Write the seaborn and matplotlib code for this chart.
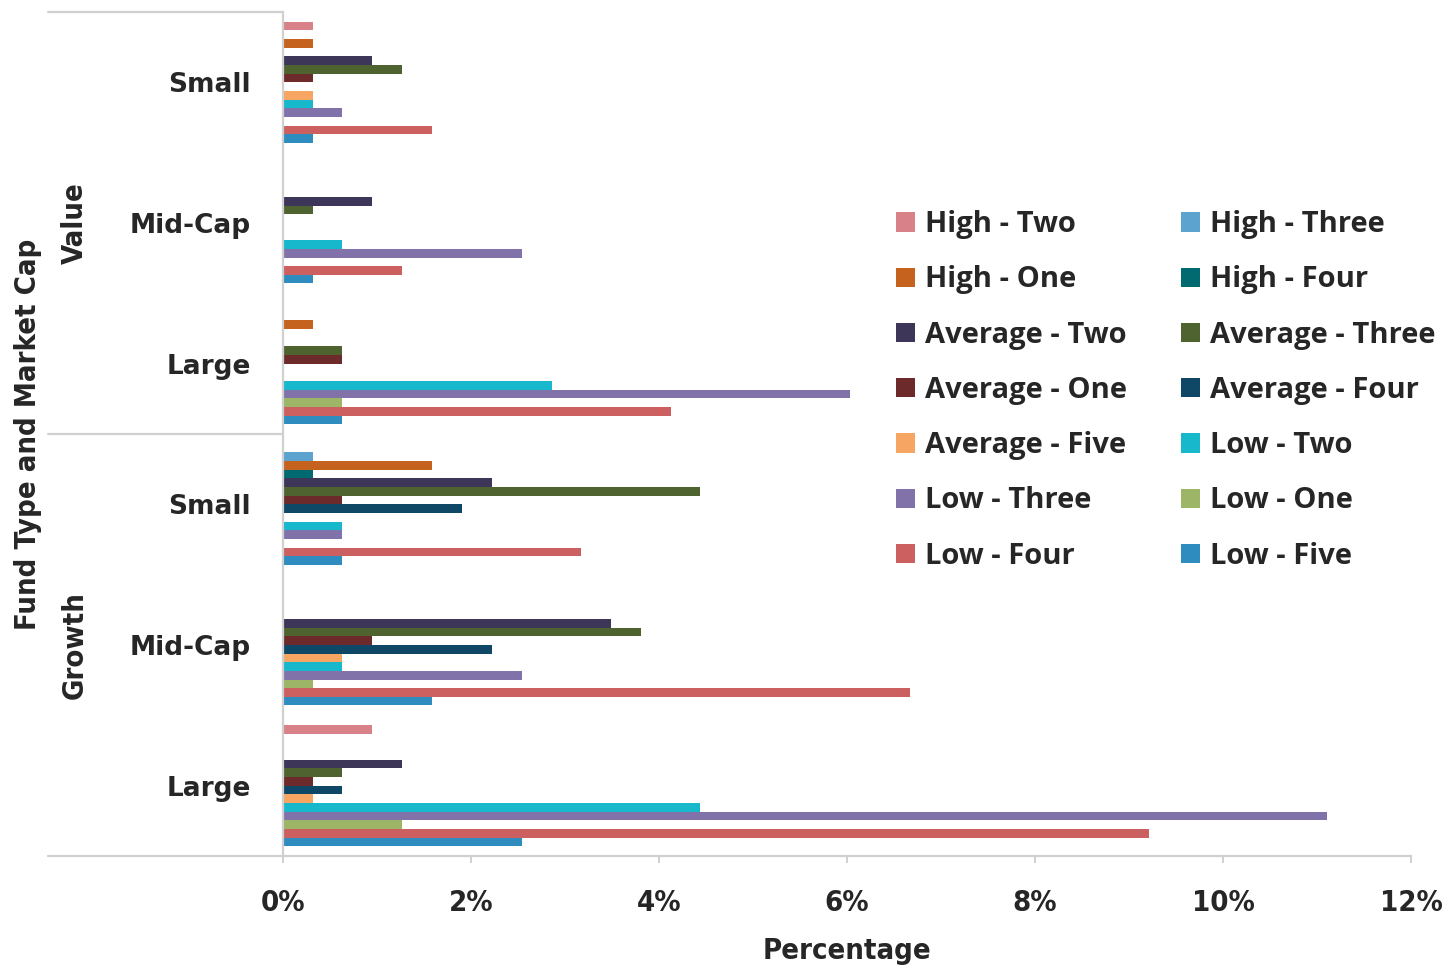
import matplotlib
matplotlib.use("Agg")
import matplotlib.pyplot as plt
import matplotlib.transforms as mtransforms
from matplotlib.ticker import FuncFormatter
import pandas as pd
import seaborn as sns

# Series (return level - rating), in drawing order within each group
series = [
    "High - Two", "High - Three", "High - One", "High - Four",
    "Average - Two", "Average - Three", "Average - One", "Average - Four",
    "Average - Five", "Low - Two", "Low - Three", "Low - One",
    "Low - Four", "Low - Five",
]
colors = [
    "#D98189", "#5DA3CF", "#C5621E", "#006A70",
    "#3E3658", "#4F6331", "#6D2A2B", "#0F4767",
    "#F6A562", "#18B8CC", "#8173A9", "#9CB566",
    "#CC5F5F", "#2E8CBF",
]

fund_types = ["Value", "Value", "Value", "Growth", "Growth", "Growth"]
market_caps = ["Small", "Mid-Cap", "Large", "Small", "Mid-Cap", "Large"]

# Percentage of funds per series, one list per fund type / market cap
value_small = [0.32, 0, 0.32, 0, 0.95, 1.27, 0.32, 0, 0.32, 0.32, 0.63, 0, 1.59, 0.32]
value_mid = [0, 0, 0, 0, 0.95, 0.32, 0, 0, 0, 0.63, 2.54, 0, 1.27, 0.32]
value_large = [0, 0, 0.32, 0, 0, 0.63, 0.63, 0, 0, 2.86, 6.03, 0.63, 4.13, 0.63]
growth_small = [0, 0.32, 1.59, 0.32, 2.22, 4.44, 0.63, 1.90, 0, 0.63, 0.63, 0, 3.17, 0.63]
growth_mid = [0, 0, 0, 0, 3.49, 3.81, 0.95, 2.22, 0.63, 0.63, 2.54, 0.32, 6.67, 1.59]
growth_large = [0.95, 0, 0, 0, 1.27, 0.63, 0.32, 0.63, 0.32, 4.44, 11.11, 1.27, 9.21, 2.54]

groups = [value_small, value_mid, value_large, growth_small, growth_mid, growth_large]

rows = []
for ft, mc, vals in zip(fund_types, market_caps, groups):
    for s, v in zip(series, vals):
        rows.append({"group": f"{ft}|{mc}", "series": s, "pct": v})
df = pd.DataFrame(rows)
group_order = [f"{ft}|{mc}" for ft, mc in zip(fund_types, market_caps)]

sns.set_theme(style="white")
plt.rcParams["font.family"] = ["Open Sans", "DejaVu Sans"]

fig = plt.figure(figsize=(14.46, 9.67), dpi=100)
ax = fig.add_axes([283 / 1446, 1 - 856 / 967, 1128 / 1446, 844 / 967])

sns.barplot(
    data=df, y="group", x="pct", hue="series",
    order=group_order, hue_order=series, palette=colors,
    orient="h", width=0.86, dodge=True, errorbar=None,
    linewidth=0, saturation=1, ax=ax,
)

leg = ax.get_legend()
handles = list(leg.legend_handles)
labels = [t.get_text() for t in leg.get_texts()]
leg.remove()

ax.set_xlim(0, 12)
ax.set_ylim(5.5, -0.5)
ax.set_xticks(range(0, 13, 2))
ax.xaxis.set_major_formatter(FuncFormatter(lambda v, _: f"{v:.0f}%"))

grey = "#D0D0D0"
text_col = "#262626"
for side in ["top", "right"]:
    ax.spines[side].set_visible(False)
ax.spines["left"].set_color(grey)
ax.spines["left"].set_linewidth(1.6)
ax.spines["bottom"].set_color(grey)
ax.spines["bottom"].set_linewidth(1.6)

ax.tick_params(axis="x", bottom=True, length=5, width=1.4, color=grey,
               pad=19, labelsize=21, labelcolor=text_col)
ax.tick_params(axis="y", left=False, pad=17, labelsize=19, labelcolor=text_col)
for lbl in ax.get_xticklabels():
    lbl.set_fontweight("bold")
    lbl.set_fontstretch("condensed")
    lbl.set_family("DejaVu Sans")

ax.set_yticks(range(len(group_order)))
ax.set_yticklabels(market_caps, fontweight="bold", family="DejaVu Sans")
ax.set_ylabel("")
ax.set_xlabel("Percentage", fontsize=21, fontweight="bold", color=text_col,
              family="DejaVu Sans", fontstretch="condensed", labelpad=14)

# Multi-level category axis: separator lines and outer labels
trans = mtransforms.blended_transform_factory(ax.transAxes, ax.transData)
x_left = (48 - 283) / 1128
for yv in [-0.5, 2.5, 5.5]:
    ax.plot([x_left, 0], [yv, yv], color=grey, lw=1.6, transform=trans, clip_on=False)

for ft, yc in [("Value", 1.0), ("Growth", 4.0)]:
    ax.text((75 - 283) / 1128, yc, ft, transform=trans, rotation=90,
            ha="center", va="center", fontsize=21, fontweight="bold",
            color=text_col, family="DejaVu Sans", fontstretch="condensed")
ax.text((28 - 283) / 1128, 2.5, "Fund Type and Market Cap", transform=trans,
        rotation=90, ha="center", va="center", fontsize=21, fontweight="bold",
        color=text_col, family="DejaVu Sans", fontstretch="condensed")

# Legend: two columns, read row-wise
order = list(range(0, len(series), 2)) + list(range(1, len(series), 2))
fig.legend(
    [handles[i] for i in order], [labels[i] for i in order],
    ncol=2, loc="upper left", bbox_to_anchor=(870 / 1446, 1 - 184 / 967),
    frameon=False, prop={"size": 21, "weight": "bold", "family": "Open Sans"},
    labelcolor=text_col, handlelength=0.64, handleheight=0.64,
    handletextpad=0.35, columnspacing=1.85, labelspacing=0.9,
)

fig.savefig("out.png", dpi=100, facecolor="white")
